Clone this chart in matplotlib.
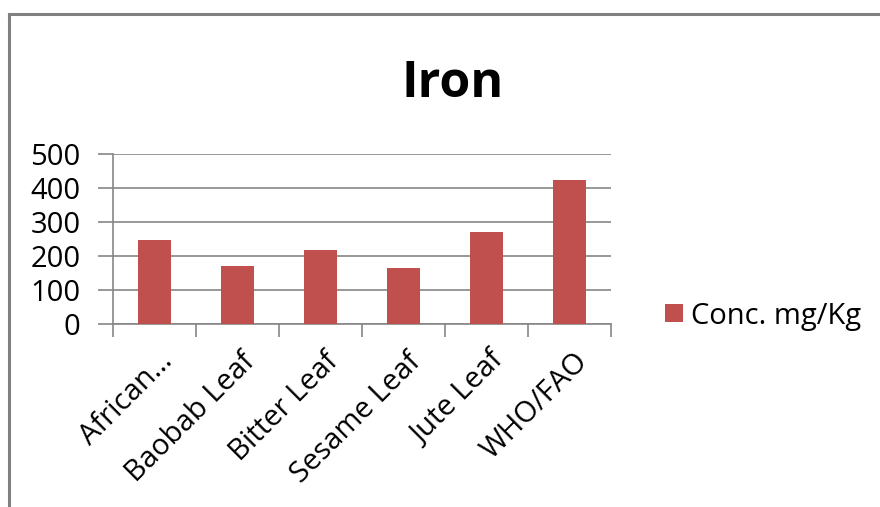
import matplotlib.pyplot as plt
import matplotlib.transforms as mtransforms
from matplotlib.lines import Line2D
import numpy as np

plt.rcParams['font.family'] = ['Open Sans', 'DejaVu Sans']

categories = ['African…', 'Baobab Leaf', 'Bitter Leaf', 'Sesame Leaf', 'Jute Leaf', 'WHO/FAO']
conc = [247, 171, 218, 166, 270, 425]
yticks = [0, 100, 200, 300, 400, 500]

bar_color = '#C0504D'
grid_color = '#868686'
fs = 21

fig = plt.figure(figsize=(8.8, 5.07), dpi=100)
ax = fig.add_axes([0.128, 0.361, 0.566, 0.335])

x = np.arange(len(categories))
ax.bar(x, conc, width=0.4, color=bar_color, label='Conc. mg/Kg', zorder=3)

ax.set_xlim(-0.5, len(categories) - 0.5)
ax.set_ylim(0, 500)
ax.set_yticks(yticks)
ax.set_yticklabels([str(t) for t in yticks], fontsize=fs)
ax.yaxis.grid(True, color=grid_color, linewidth=1.2)
ax.set_axisbelow(True)

# category ticks sit on the boundaries between bars
ax.set_xticks(np.arange(len(categories) + 1) - 0.5)
ax.set_xticklabels([])
ax.set_xticks(x, minor=True)
ax.set_xticklabels(categories, minor=True, fontsize=fs, rotation=45,
                   ha='right', va='center', rotation_mode='anchor')
ax.tick_params(axis='x', which='minor', length=0, pad=24)
ax.tick_params(axis='x', which='major', length=9, color=grid_color, width=1.2)
ax.tick_params(axis='y', length=11, color=grid_color, width=1.2, pad=12)

# nudge the slanted labels to the right of each category centre
shift = mtransforms.ScaledTranslation(10 / 72, 0, fig.dpi_scale_trans)
for lbl in ax.get_xticklabels(minor=True):
    lbl.set_transform(lbl.get_transform() + shift)

for side in ['top', 'right']:
    ax.spines[side].set_visible(False)
for side in ['left', 'bottom']:
    ax.spines[side].set_color(grid_color)
    ax.spines[side].set_linewidth(1.2)

fig.text(0.514, 0.809, 'Iron', fontsize=36, fontweight='bold', ha='center', va='baseline')

ax.legend(loc='center left', bbox_to_anchor=(0.7557, 0.3767), bbox_transform=fig.transFigure,
          frameon=False, fontsize=fs, handlelength=0.6, handleheight=0.6,
          handletextpad=0.28, borderaxespad=0, borderpad=0)

# chart area border (top and left edges)
fig.add_artist(Line2D([0.0105, 0.0105], [0.0, 0.9725], color='#808080', linewidth=2.2,
                      transform=fig.transFigure, solid_capstyle='projecting'))
fig.add_artist(Line2D([0.0105, 1.0], [0.9725, 0.9725], color='#808080', linewidth=2.2,
                      transform=fig.transFigure, solid_capstyle='projecting'))

fig.savefig('out.png', dpi=100)
